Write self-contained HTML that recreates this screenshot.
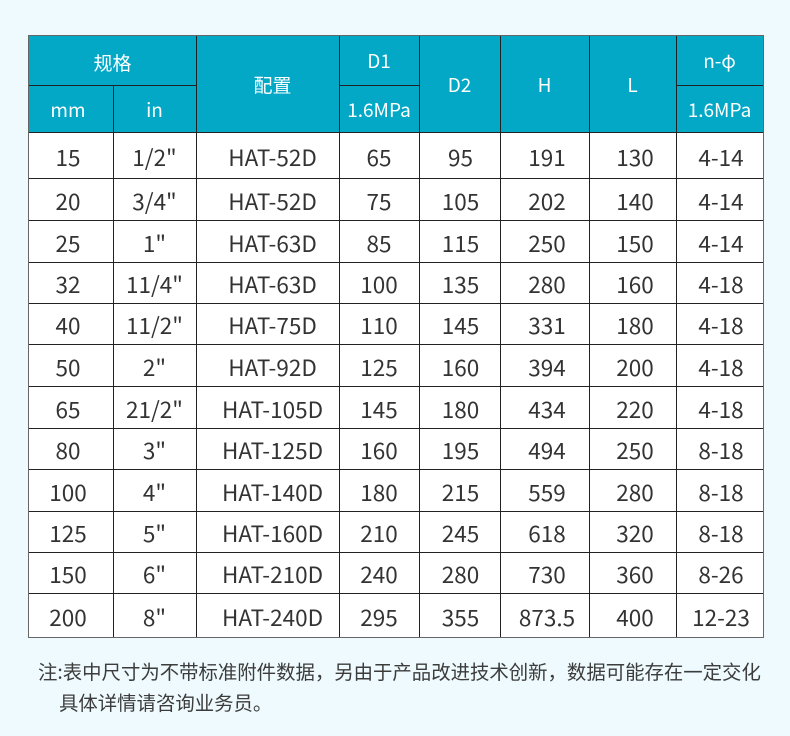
<!DOCTYPE html>
<html><head><meta charset="utf-8">
<style>
html,body{margin:0;padding:0;}
body{width:790px;height:736px;background:#eefafd;position:relative;overflow:hidden;font-family:"Noto Sans CJK SC","Liberation Sans",sans-serif;}
.hd{position:absolute;left:29px;top:35px;width:734px;height:97px;background:#03a8c6;}
.wb{position:absolute;left:29px;top:132px;width:734px;height:505px;background:#ffffff;}
.h{position:absolute;height:1px;background:#222;}
.v{position:absolute;width:1px;background:#222;}
.c{position:absolute;display:flex;align-items:center;justify-content:center;white-space:nowrap;}
.ht{color:#fff;font-size:19px;}
.row{position:absolute;left:29px;width:734px;display:flex;color:#333;font-size:22.5px;}
.row div{display:flex;align-items:center;justify-content:center;padding-top:3px;box-sizing:border-box;white-space:nowrap;}
.row div:nth-child(1){width:84px;padding-right:6px;}
.row div:nth-child(2){width:83px;}
.row div:nth-child(3){width:143px;padding-left:10px;}
.row div:nth-child(4){width:80px;}
.row div:nth-child(5){width:81px;padding-left:2px;}
.row div:nth-child(6){width:89px;padding-left:5px;}
.row div:nth-child(7){width:87px;padding-left:5px;}
.row div:nth-child(8){width:87px;padding-left:3px;}
.note{position:absolute;left:38px;top:655px;font-size:19.4px;line-height:31px;color:#3c3c3c;white-space:nowrap;}
</style></head><body>
<div class="hd"></div>
<div class="wb"></div>

<!-- header text -->
<div class="c ht" style="left:29px;top:39px;width:167px;height:47px;">规格</div>
<div class="c ht" style="left:29px;top:86px;width:78px;height:46px;">mm</div>
<div class="c ht" style="left:113px;top:86px;width:83px;height:46px;">in</div>
<div class="c ht" style="left:196px;top:36px;width:153px;height:96px;">配置</div>
<div class="c ht" style="left:339px;top:36px;width:80px;height:49px;">D1</div>
<div class="c ht" style="left:339px;top:86px;width:80px;height:46px;">1.6MPa</div>
<div class="c ht" style="left:419px;top:36px;width:81px;height:96px;">D2</div>
<div class="c ht" style="left:500px;top:36px;width:89px;height:96px;">H</div>
<div class="c ht" style="left:589px;top:36px;width:87px;height:96px;">L</div>
<div class="c ht" style="left:676px;top:36px;width:87px;height:49px;">n-φ</div>
<div class="c ht" style="left:676px;top:86px;width:87px;height:46px;">1.6MPa</div>

<!-- data rows -->
<div class="row" style="top:132px;height:46px;"><div>15</div><div>1/2"</div><div>HAT-52D</div><div>65</div><div>95</div><div>191</div><div>130</div><div>4-14</div></div>
<div class="row" style="top:178px;height:42px;"><div>20</div><div>3/4"</div><div>HAT-52D</div><div>75</div><div>105</div><div>202</div><div>140</div><div>4-14</div></div>
<div class="row" style="top:220px;height:42px;"><div>25</div><div>1"</div><div>HAT-63D</div><div>85</div><div>115</div><div>250</div><div>150</div><div>4-14</div></div>
<div class="row" style="top:262px;height:41px;"><div>32</div><div>11/4"</div><div>HAT-63D</div><div>100</div><div>135</div><div>280</div><div>160</div><div>4-18</div></div>
<div class="row" style="top:303px;height:41px;"><div>40</div><div>11/2"</div><div>HAT-75D</div><div>110</div><div>145</div><div>331</div><div>180</div><div>4-18</div></div>
<div class="row" style="top:344px;height:42px;"><div>50</div><div>2"</div><div>HAT-92D</div><div>125</div><div>160</div><div>394</div><div>200</div><div>4-18</div></div>
<div class="row" style="top:386px;height:42px;"><div>65</div><div>21/2"</div><div>HAT-105D</div><div>145</div><div>180</div><div>434</div><div>220</div><div>4-18</div></div>
<div class="row" style="top:428px;height:41px;"><div>80</div><div>3"</div><div>HAT-125D</div><div>160</div><div>195</div><div>494</div><div>250</div><div>8-18</div></div>
<div class="row" style="top:469px;height:42px;"><div>100</div><div>4"</div><div>HAT-140D</div><div>180</div><div>215</div><div>559</div><div>280</div><div>8-18</div></div>
<div class="row" style="top:511px;height:41px;"><div>125</div><div>5"</div><div>HAT-160D</div><div>210</div><div>245</div><div>618</div><div>320</div><div>8-18</div></div>
<div class="row" style="top:552px;height:41px;"><div>150</div><div>6"</div><div>HAT-210D</div><div>240</div><div>280</div><div>730</div><div>360</div><div>8-26</div></div>
<div class="row" style="top:593px;height:44px;"><div>200</div><div>8"</div><div>HAT-240D</div><div>295</div><div>355</div><div>873.5</div><div>400</div><div>12-23</div></div>

<!-- horizontal lines -->
<div class="h" style="left:29px;top:85px;width:167px;"></div>
<div class="h" style="left:339px;top:85px;width:80px;"></div>
<div class="h" style="left:676px;top:85px;width:87px;"></div>
<div class="h" style="left:29px;top:132px;width:734px;"></div>
<div class="h" style="left:29px;top:178px;width:734px;"></div>
<div class="h" style="left:29px;top:220px;width:734px;"></div>
<div class="h" style="left:29px;top:262px;width:734px;"></div>
<div class="h" style="left:29px;top:303px;width:734px;"></div>
<div class="h" style="left:29px;top:344px;width:734px;"></div>
<div class="h" style="left:29px;top:386px;width:734px;"></div>
<div class="h" style="left:29px;top:428px;width:734px;"></div>
<div class="h" style="left:29px;top:469px;width:734px;"></div>
<div class="h" style="left:29px;top:511px;width:734px;"></div>
<div class="h" style="left:29px;top:552px;width:734px;"></div>
<div class="h" style="left:29px;top:593px;width:734px;"></div>

<!-- vertical lines -->
<div class="v" style="left:113px;top:85px;height:552px;"></div>
<div class="v" style="left:196px;top:35px;height:602px;"></div>
<div class="v" style="left:339px;top:35px;height:602px;"></div>
<div class="v" style="left:419px;top:35px;height:602px;"></div>
<div class="v" style="left:500px;top:35px;height:602px;"></div>
<div class="v" style="left:589px;top:35px;height:602px;"></div>
<div class="v" style="left:676px;top:35px;height:602px;"></div>

<!-- outer border -->
<div style="position:absolute;left:28px;top:35px;width:734px;height:601px;border:1px solid #666;"></div>

<div class="note">注:表中尺寸为不带标准附件数据，另由于产品改进技术创新，数据可能存在一定交化<br><span style="padding-left:21px;">具体详情请咨询业务员。</span></div>
</body></html>
